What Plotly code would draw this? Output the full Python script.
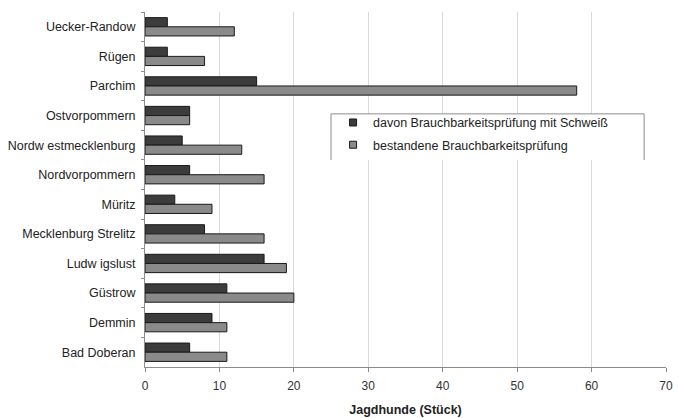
import plotly.graph_objects as go

categories = ["Uecker-Randow", "Rügen", "Parchim", "Ostvorpommern", "Nordw estmecklenburg",
              "Nordvorpommern", "Müritz", "Mecklenburg Strelitz", "Ludw igslust", "Güstrow",
              "Demmin", "Bad Doberan"]
schweiss = [3, 3, 15, 6, 5, 6, 4, 8, 16, 11, 9, 6]
bestanden = [12, 8, 58, 6, 13, 16, 9, 16, 19, 20, 11, 11]
series_names = ["davon Brauchbarkeitsprüfung mit Schweiß", "bestandene Brauchbarkeitsprüfung"]
series_colors = ["#3c3c3c", "#8a8a8a"]
x_ticks = [0, 10, 20, 30, 40, 50, 60, 70]

FONT = "Liberation Sans, Arial, sans-serif"
OUTLINE = "#1a1a1a"

fig = go.Figure()
for vals, name, col in zip([schweiss, bestanden], series_names, series_colors):
    fig.add_trace(go.Bar(y=categories, x=vals, orientation="h", name=name, showlegend=False,
                         marker=dict(color=col, line=dict(color=OUTLINE, width=1))))
# legend entries with small square symbols
for i, (name, col) in enumerate(zip(series_names, series_colors)):
    fig.add_trace(go.Scatter(x=[None], y=[None], mode="markers", name=name, legendgroup=f"g{i}",
                             marker=dict(symbol="square", size=7, color=col,
                                         line=dict(color=OUTLINE, width=1))))

# legend box (top, left and right sides)
fig.add_shape(type="rect", xref="paper", yref="paper", x0=0.357, x1=0.958, y0=0.583, y1=0.713,
              fillcolor="white", line=dict(width=0), layer="above")
fig.add_shape(type="path", xref="paper", yref="paper",
              path="M 0.357 0.583 L 0.357 0.713 L 0.958 0.713 L 0.958 0.583",
              line=dict(color="#8c8c8c", width=1), layer="above")

fig.update_layout(
    width=679, height=418,
    margin=dict(l=145, r=13, t=12, b=51),
    paper_bgcolor="white", plot_bgcolor="white",
    barmode="group", bargap=0.38, bargroupgap=0,
    font=dict(family=FONT, size=12.5, color="#222"),
    showlegend=True,
    legend=dict(x=0.361, y=0.73, xanchor="left", yanchor="top",
                bgcolor="rgba(0,0,0,0)", borderwidth=0,
                font=dict(family=FONT, size=12.5, color="#222"),
                itemwidth=30, tracegroupgap=3),
    xaxis=dict(range=[0, 70], tickvals=x_ticks, showgrid=True, gridcolor="#d9d9d9", gridwidth=1,
               zeroline=False, showline=True, linecolor="#8c8c8c", linewidth=1,
               ticks="outside", ticklen=4, tickcolor="#8c8c8c", automargin=False,
               ticklabelstandoff=4,
               tickfont=dict(family=FONT, size=12, color="#333"),
               title=dict(text="<b>Jagdhunde (Stück)</b>", font=dict(family=FONT, size=12.5, color="#222"),
                          standoff=12)),
    yaxis=dict(autorange="reversed", showgrid=False, showline=True, linecolor="#8c8c8c", linewidth=1,
               ticks="outside", tickson="boundaries", ticklen=3, tickcolor="#8c8c8c",
               ticklabelstandoff=6, automargin=False,
               tickfont=dict(family=FONT, size=12.5, color="#222")),
)

fig.write_html("out.html", config={"displayModeBar": False},
               post_script="document.body.style.margin='0';")
